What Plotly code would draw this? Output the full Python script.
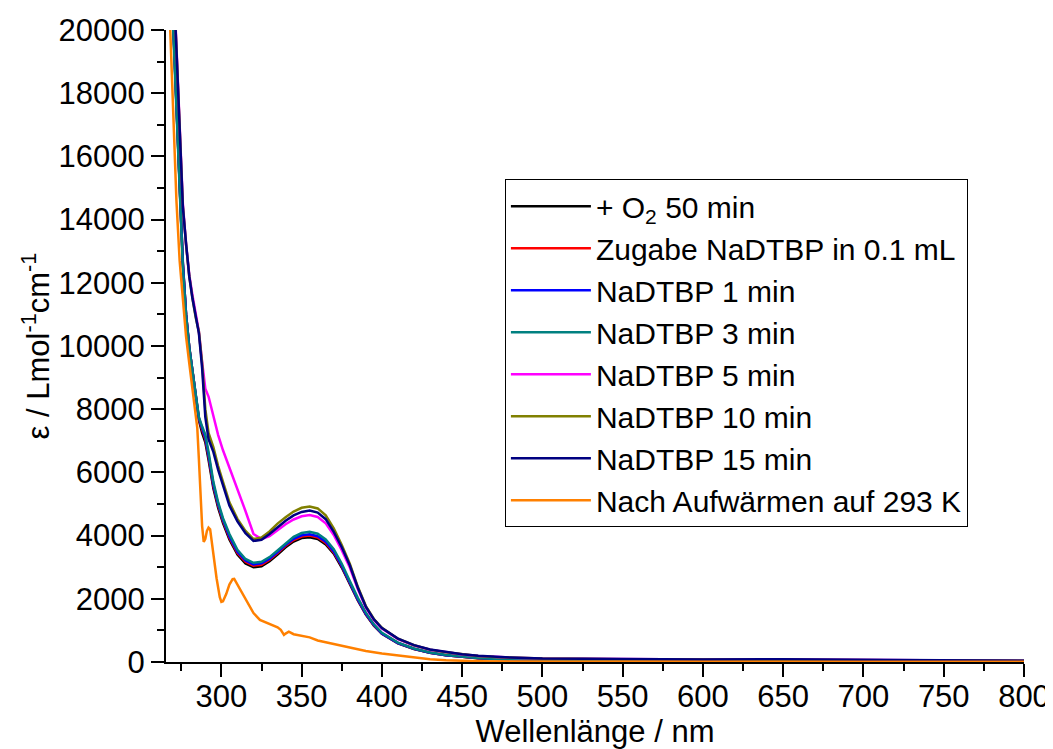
import plotly.graph_objects as go

# ---- data ----
wl = [266, 268, 270, 272, 274, 276, 278, 280, 282, 284, 286, 288, 290, 292, 295, 298, 301, 305,
      310, 315, 320, 325, 330, 335, 340, 345, 350, 355, 360, 365, 370, 375, 380, 385, 390, 395,
      400, 410, 420, 430, 440, 450, 460, 470, 480, 500, 550, 600, 650, 700, 750, 800]

eps_o2_50 = [25200, 22600, 20100, 17500, 14800, 12600, 11000, 9950, 9200, 8450, 7650, 7250, 6950,
             6400, 5500, 4880, 4400, 3880, 3400, 3120, 3000, 3030, 3190, 3400, 3630, 3810, 3920,
             3950, 3890, 3720, 3430, 2990, 2460, 1950, 1500, 1150, 890, 590, 410, 290, 210, 155,
             120, 98, 87, 75, 65, 60, 65, 55, 40, 25]
eps_zugabe = [25200, 22600, 20100, 17500, 14800, 12600, 11000, 9950, 9200, 8450, 7700, 7350, 7050,
              6500, 5580, 4950, 4460, 3930, 3450, 3170, 3050, 3080, 3240, 3450, 3680, 3860, 3970,
              4000, 3940, 3770, 3470, 3030, 2490, 1975, 1520, 1165, 900, 598, 415, 294, 213, 157,
              122, 99, 88, 77, 67, 62, 67, 57, 42, 27]
eps_1min = [25300, 22700, 20200, 17600, 14850, 12650, 11000, 9950, 9200, 8450, 7720, 7400, 7100,
            6550, 5620, 4990, 4500, 3970, 3490, 3210, 3090, 3120, 3270, 3480, 3710, 3900, 4010,
            4040, 3980, 3810, 3500, 3050, 2500, 1980, 1525, 1170, 905, 600, 418, 296, 214, 158,
            123, 100, 89, 78, 68, 63, 68, 58, 43, 28]
eps_3min = [25000, 22400, 19900, 17400, 14700, 12500, 10950, 9950, 9200, 8450, 7750, 7450, 7200,
            6650, 5700, 5050, 4550, 4050, 3550, 3260, 3140, 3170, 3320, 3530, 3760, 3960, 4080,
            4120, 4060, 3880, 3570, 3110, 2560, 2030, 1560, 1195, 925, 615, 428, 303, 219, 162,
            126, 103, 91, 80, 70, 65, 70, 60, 45, 30]
eps_5min = [27700, 25200, 22000, 19500, 17000, 14500, 13200, 12250, 11600, 10950, 10450, 9500, 8650,
            8400, 7800, 7180, 6700, 6150, 5500, 4780, 4050, 3890, 3980, 4180, 4360, 4510, 4610,
            4650, 4590, 4390, 4020, 3540, 2990, 2310, 1720, 1330, 1060, 725, 520, 385, 300, 235,
            190, 158, 138, 107, 88, 78, 83, 73, 58, 38]
eps_10min = [27500, 25000, 21800, 19400, 16900, 14400, 13200, 12200, 11500, 10900, 10450, 9450, 8000,
             7250, 6800, 6200, 5700, 5050, 4530, 4150, 3890, 3940, 4130, 4380, 4580, 4760, 4880,
             4920, 4860, 4640, 4230, 3700, 3110, 2380, 1770, 1360, 1080, 738, 530, 392, 305, 238,
             192, 160, 139, 108, 88, 78, 82, 72, 58, 38]
eps_15min = [27500, 25000, 21800, 19400, 16800, 14400, 13250, 12200, 11500, 10880, 10400, 9300, 7750,
             7050, 6650, 6080, 5600, 4950, 4450, 4080, 3830, 3870, 4050, 4270, 4470, 4640, 4750,
             4790, 4730, 4520, 4120, 3630, 3060, 2350, 1750, 1350, 1075, 740, 535, 398, 310, 242,
             195, 163, 142, 110, 90, 80, 85, 75, 60, 40]

wl_warm = [266, 268, 270, 272, 274, 276, 278, 280, 282, 284, 285, 286, 287, 288, 289, 290, 291, 292,
           293, 294, 295, 297, 299, 300, 301, 303, 305, 307, 308, 310, 313, 316, 320, 324, 330, 335,
           337, 339, 340, 342, 345, 350, 355, 360, 370, 380, 390, 400, 410, 420, 430, 440, 450,
           460, 480, 500, 550, 600, 650, 700, 750, 800]
eps_warm = [23000, 20300, 17500, 14600, 12700, 11500, 10300, 9450, 8650, 7900, 7400, 6400, 5300,
            4300, 3800, 3900, 4150, 4250, 4200, 3800, 3300, 2650, 2050, 1900, 1920, 2150, 2450,
            2620, 2630, 2450, 2150, 1900, 1550, 1330, 1200, 1100, 1020, 860, 900, 960, 880, 820,
            780, 680, 570, 450, 350, 270, 205, 140, 90, 55, 35, 25, 15, 10, 5, 8, 10, 8, 5, 5]

series_names = ["+ O<sub>2</sub> 50 min", "Zugabe NaDTBP in 0.1 mL", "NaDTBP 1 min", "NaDTBP 3 min",
                "NaDTBP 5 min", "NaDTBP 10 min", "NaDTBP 15 min", "Nach Aufwärmen auf 293 K"]
series_colors = ["#000000", "#FF0000", "#0000FF", "#008080", "#FF00FF", "#808000", "#000080", "#FF8000"]
series_x = [wl, wl, wl, wl, wl, wl, wl, wl_warm]
series_y = [eps_o2_50, eps_zugabe, eps_1min, eps_3min, eps_5min, eps_10min, eps_15min, eps_warm]

FONT = "Arial, Liberation Sans, sans-serif"

fig = go.Figure()
for name, col, xs, ys in zip(series_names, series_colors, series_x, series_y):
    fig.add_trace(go.Scatter(x=xs, y=ys, mode="lines", name=name,
                             line=dict(color=col, width=2.5)))

# the page body adds an 8 px offset, so the figure is 8 px smaller on each side
fig.update_layout(
    width=1045, height=741,
    margin=dict(l=158, r=29, t=22, b=87),
    plot_bgcolor="white", paper_bgcolor="white",
    font=dict(family=FONT, size=31, color="black"),
    showlegend=True,
    legend=dict(x=0.395, y=0.764, xanchor="left", yanchor="top",
                bordercolor="black", borderwidth=1, bgcolor="white",
                font=dict(size=30), itemwidth=80, tracegroupgap=0),
    xaxis=dict(range=[265.5, 800], tick0=0, dtick=50, ticks="outside", ticklen=13, tickwidth=2,
               tickcolor="black", showline=True, linewidth=2, linecolor="black",
               showgrid=False, zeroline=False, automargin=False, ticklabelstandoff=-7,
               minor=dict(dtick=25, ticks="outside", ticklen=7, tickwidth=2, tickcolor="black"),
               title=dict(text="Wellenlänge / nm", standoff=26, font=dict(size=31))),
    yaxis=dict(range=[0, 20000], tick0=0, dtick=2000, ticks="outside", ticklen=13, tickwidth=2,
               tickcolor="black", showline=True, linewidth=2, linecolor="black",
               showgrid=False, zeroline=False, tickformat="d", automargin=False,
               minor=dict(dtick=1000, ticks="outside", ticklen=7, tickwidth=2, tickcolor="black"),
               title=dict(text="ε / Lmol<sup>-1</sup>cm<sup>-1</sup>", standoff=0, font=dict(size=31))),
)

fig.write_html("out.html")
